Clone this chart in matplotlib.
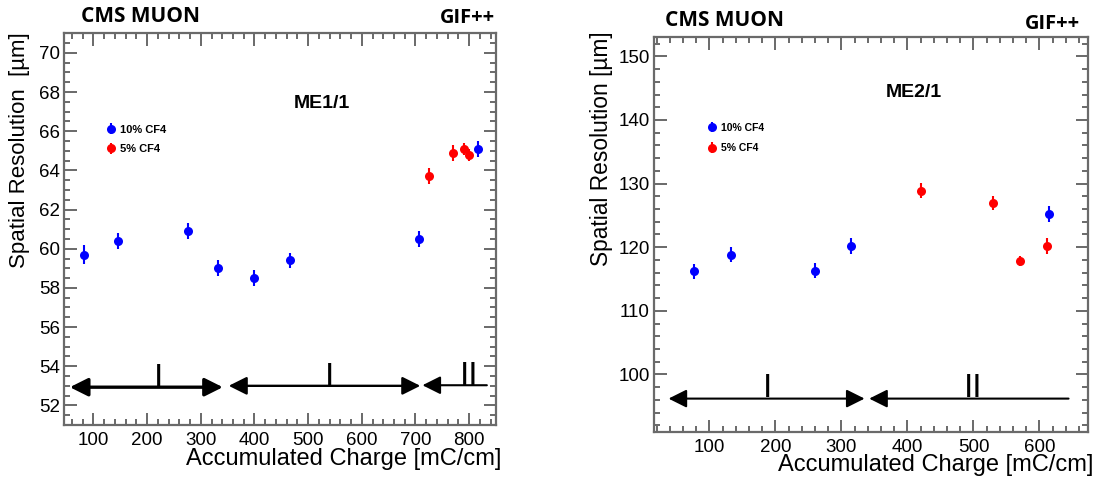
import matplotlib
matplotlib.use("Agg")
import matplotlib.pyplot as plt
from matplotlib.ticker import MultipleLocator

plt.rcParams["font.family"] = ["Liberation Sans", "DejaVu Sans"]

# ---------------- data ----------------
# ME1/1
me11_x_10 = [83, 146, 277, 332, 400, 467, 706, 816]
me11_y_10 = [59.7, 60.4, 60.9, 59.0, 58.5, 59.4, 60.5, 65.1]
me11_e_10 = [0.5, 0.4, 0.4, 0.4, 0.4, 0.4, 0.4, 0.4]
me11_x_5 = [725, 770, 790, 800]
me11_y_5 = [63.7, 64.9, 65.1, 64.8]
me11_e_5 = [0.4, 0.4, 0.3, 0.3]

# ME2/1
me21_x_10 = [77, 132, 260, 314, 615]
me21_y_10 = [116.2, 118.8, 116.3, 120.2, 125.2]
me21_e_10 = [1.2, 1.2, 1.2, 1.2, 1.3]
me21_x_5 = [420, 530, 571, 611]
me21_y_5 = [128.9, 126.9, 117.8, 120.2]
me21_e_5 = [1.2, 1.1, 0.8, 1.2]

# periods (arrows): start, end, label
me11_periods = [(56, 341, "I"), (352, 709, "I"), (713, 833, "II")]
me11_period_y = [52.93, 53.0, 53.03]
me11_label_x = [222, 540, 800]
me21_periods = [(38, 335, "I"), (342, 644, "II")]
me21_period_y = [96.2, 96.2]
me21_label_x = [188, 500]

labels = ["10% CF4", "5% CF4"]
xlabel = "Accumulated Charge [mC/cm]"

BLUE = "#0000ff"
RED = "#ff0000"
FRAME = "#6a6a6a"
TICK = "#505050"

fig = plt.figure(figsize=(10.99, 4.78), dpi=100)
axL = fig.add_axes([0.0582, 0.1109, 0.3931, 0.8194])
axR = fig.add_axes([0.5951, 0.0969, 0.3952, 0.8251])


def style(ax, xmaj, xmin, ymaj, ymin):
    ax.xaxis.set_major_locator(MultipleLocator(xmaj))
    ax.xaxis.set_minor_locator(MultipleLocator(xmin))
    ax.yaxis.set_major_locator(MultipleLocator(ymaj))
    ax.yaxis.set_minor_locator(MultipleLocator(ymin))
    ax.tick_params(which="both", direction="in", top=True, right=True, color=TICK, width=1.2,
                   labelsize=13.5)
    ax.tick_params(which="major", length=9)
    ax.tick_params(which="minor", length=4.5)
    ax.tick_params(axis="x", which="major", pad=5)
    ax.tick_params(axis="y", which="major", pad=3)
    for s in ax.spines.values():
        s.set_color(FRAME)
        s.set_linewidth(1.6)


def draw_points(ax, x, y, e, c, label):
    return ax.errorbar(x, y, yerr=e, fmt="o", color=c, ecolor=c, ms=6.5,
                       elinewidth=1.5, capsize=2, capthick=1.2, label=label,
                       markeredgewidth=0)


def arrow(ax, x0, x1, y, lw, both=True, hl=10, hw=5):
    style_str = ("<|-|>" if both else "<|-") + f",head_length={hl},head_width={hw}"
    ax.annotate("", xy=(x1, y), xytext=(x0, y),
                arrowprops=dict(arrowstyle=style_str, lw=lw, color="black",
                                shrinkA=0, shrinkB=0, mutation_scale=1))


# ---------------- Left panel ----------------
axL.set_xlim(45, 850)
axL.set_ylim(51, 71)
style(axL, 100, 20, 2, 0.5)
hL1 = draw_points(axL, me11_x_10, me11_y_10, me11_e_10, BLUE, labels[0])
hL2 = draw_points(axL, me11_x_5, me11_y_5, me11_e_5, RED, labels[1])
lws_L = [2.4, 1.7, 1.5]
for i, (x0, x1, lab) in enumerate(me11_periods):
    arrow(axL, x0, x1, me11_period_y[i], lws_L[i], both=(i < 2), hl=11, hw=5.5)
    axL.text(me11_label_x[i], me11_period_y[i], lab, ha="center", va="baseline",
             fontsize=24)
axL.text(526, 67.4, "ME1/1", ha="center", va="center", fontweight="bold", fontsize=14)
axL.legend(handles=[hL1, hL2], loc="upper left", bbox_to_anchor=(0.097, 0.767),
           frameon=False, prop=dict(weight="bold", size=8),
           handlelength=0.9, handletextpad=0.4, labelspacing=0.85, borderpad=0,
           borderaxespad=0)
axL.set_xlabel(xlabel, fontsize=17, ha="right", va="center")
axL.xaxis.set_label_coords(1.013, -0.087)
axL.set_ylabel("Spatial Resolution  [\u00b5m]", fontsize=16, ha="right", va="center")
axL.yaxis.set_label_coords(-0.102, 1.003)
fig.text(81 / 1099, 1 - 17 / 478, "CMS MUON", family="Open Sans", fontweight="bold",
         fontsize=15, ha="left", va="center")
fig.text(495 / 1099, 1 - 18 / 478, "GIF++", family="Open Sans", fontweight="bold",
         fontsize=14.5, ha="right", va="center")

# ---------------- Right panel ----------------
axR.set_xlim(16, 674)
axR.set_ylim(91, 153)
style(axR, 100, 20, 10, 2)
hR1 = draw_points(axR, me21_x_10, me21_y_10, me21_e_10, BLUE, labels[0])
hR2 = draw_points(axR, me21_x_5, me21_y_5, me21_e_5, RED, labels[1])
for i, (x0, x1, lab) in enumerate(me21_periods):
    arrow(axR, x0, x1, me21_period_y[i], 1.5, both=(i == 0), hl=11, hw=5.5)
    axR.text(me21_label_x[i], me21_period_y[i] + 0.3, lab, ha="center", va="baseline",
             fontsize=24)
axR.text(410, 144.3, "ME2/1", ha="center", va="center", fontweight="bold", fontsize=14)
axR.legend(handles=[hR1, hR2], loc="upper left", bbox_to_anchor=(0.122, 0.783),
           frameon=False, prop=dict(weight="bold", size=7.5),
           handlelength=0.9, handletextpad=0.4, labelspacing=1.0, borderpad=0,
           borderaxespad=0)
axR.set_xlabel(xlabel, fontsize=17, ha="right", va="center")
axR.xaxis.set_label_coords(1.0115, -0.0845)
axR.set_ylabel("Spatial Resolution [\u00b5m]", fontsize=16.4, ha="right", va="center")
axR.yaxis.set_label_coords(-0.120, 1.014)
fig.text(665 / 1099, 1 - 21 / 478, "CMS MUON", family="Open Sans", fontweight="bold",
         fontsize=15, ha="left", va="center")
fig.text(1080 / 1099, 1 - 24 / 478, "GIF++", family="Open Sans", fontweight="bold",
         fontsize=14.5, ha="right", va="center")

fig.savefig("out.png", dpi=100)
